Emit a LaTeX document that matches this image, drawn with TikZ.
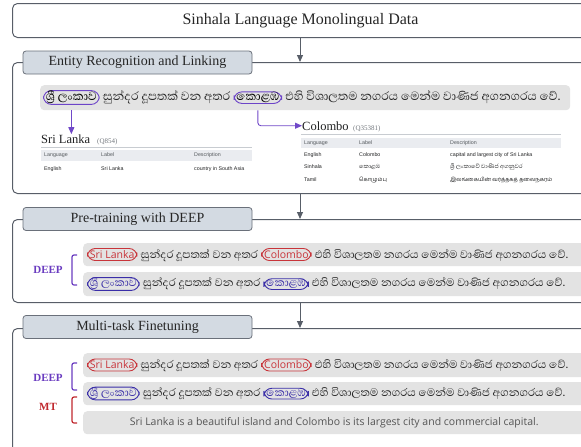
\documentclass[tikz,border=0pt]{standalone}
\usepackage{fontspec}
\setmainfont{Liberation Serif}
\newfontfamily\sinhf[Script=Sinhala]{Abhaya Libre}
\newfontfamily\tamf[Script=Tamil]{Hind Madurai}
\newfontfamily\osans{Open Sans}
\newfontfamily\lsans{Liberation Sans}
\newcommand\SiA{\sinhf\fontsize{15.2}{17}\selectfont}
\newcommand\SiB{\sinhf\fontsize{14}{16}\selectfont}
\usetikzlibrary{arrows.meta,positioning}
\definecolor{frameC}{HTML}{585E68}
\definecolor{labelD}{HTML}{6A707A}
\definecolor{labelF}{HTML}{D3DAE2}
\definecolor{rowF}{HTML}{E3E3E3}
\definecolor{entP}{HTML}{6C44C8}
\definecolor{connP}{HTML}{7048C8}
\definecolor{entR}{HTML}{C8343A}
\definecolor{entB}{HTML}{3A2EA8}
\definecolor{deepC}{HTML}{6A3CC0}
\definecolor{mtC}{HTML}{C0282E}
\definecolor{wdgray}{HTML}{EAECF0}
\definecolor{wdline}{HTML}{C8CCD1}
\definecolor{wdtext}{HTML}{202122}
\definecolor{wdhead}{HTML}{54595D}
\definecolor{wdq}{HTML}{72777D}
\definecolor{ensent}{HTML}{555555}
\begin{document}
\begin{tikzpicture}[x=1pt,y=-1pt,
  frame/.style={draw=frameC, line width=1pt, rounded corners=5pt, inner sep=0pt, anchor=north west},
  plabel/.style={draw=labelD, fill=labelF, line width=0.8pt, rounded corners=3pt, minimum width=229pt, minimum height=23pt, inner sep=0pt, font=\fontsize{14}{16}\selectfont, text=black!85},
  rowbox/.style={fill=rowF, rounded corners=4pt, inner sep=0pt, anchor=north west},
  sit/.style={font=\SiB, inner sep=0pt, text=black!85},
  sitA/.style={font=\SiA, inner sep=0pt, text=black!85},
  ent/.style={draw=#1, line width=0.9pt, rounded corners=8pt, inner xsep=2.5pt, inner ysep=0.5pt, font=\SiB},
  entA/.style={ent=#1, font=\SiA},
  entEn/.style={ent=#1, text=#1, inner ysep=2pt, font=\osans\fontsize{10.5}{12}\selectfont},
  garrow/.style={draw=frameC, line width=1pt, -{Triangle[length=7pt,width=6pt]}},
  pconn/.style={draw=connP, line width=0.9pt, -{Triangle[length=7pt,width=6pt]}, rounded corners=3pt},
  wdtitle/.style={font=\fontsize{12.5}{14}\selectfont, inner sep=0pt, text=wdtext, anchor=base west},
  wdq/.style={font=\fontsize{7}{8}\selectfont, inner sep=0pt, text=wdq, anchor=base west},
  wdh/.style={font=\lsans\fontsize{5.3}{6}\selectfont, inner sep=0pt, text=wdhead, anchor=west},
  wdd/.style={font=\lsans\fontsize{5.3}{6}\selectfont, inner sep=0pt, text=wdtext, anchor=west},
  sidelab/.style={font=\bfseries\fontsize{11}{13}\selectfont, inner sep=0pt},
  brk/.style={line width=1.2pt, rounded corners=2pt},
]
\useasboundingbox (0,0) rectangle (581,447);
\clip (0,0) rectangle (581,447);
\coordinate (ax) at (300,0);

% title
\node[frame, minimum width=576pt, minimum height=34pt, font=\fontsize{16}{18}\selectfont, text=black!85] (title) at (12,3) {Sinhala Language Monolingual Data};

% panels
\node[frame, minimum width=590pt, minimum height=131pt] (p1) at (12,62) {};
\node[frame, minimum width=590pt, minimum height=83pt] (p2) at (12,219) {};
\node[frame, minimum width=590pt, minimum height=130pt] (p3) at (12,328) {};
\draw[garrow] (title.south -| ax) -- (p1.north -| ax);
\draw[garrow] (p1.south -| ax) -- (p2.north -| ax);
\draw[garrow] (p2.south -| ax) -- (p3.north -| ax);
\node[plabel] (l1) at (137.5,62.5) {Entity Recognition and Linking};
\node[plabel] (l2) at (137.5,219) {Pre-training with DEEP};
\node[plabel] (l3) at (137.5,327) {Multi-task Finetuning};

% panel 1 row
\node[rowbox, minimum width=530pt, minimum height=25pt] (r1) at (40,85) {};
\node[entA=entP, anchor=west] (e1a) at (43,97.5) {ශ්‍රී ලංකාව};
\node[sitA, base right=3pt of e1a] (t1a) {සුන්දර දූපතක් වන අතර};
\node[entA=entP, base right=3pt of t1a] (e1b) {කොළඹ};
\node[sitA, base right=3pt of e1b] (t1b) {එහි විශාලතම නගරය මෙන්ම වාණිජ අගනගරය වේ.};

% wikidata Sri Lanka
\node[wdtitle] (sl) at (41,143) {Sri Lanka};
\node[wdq] (slq) at (97,143) {(Q854)};
\draw[wdline, line width=0.6pt] (41,147) -- (252,147);
\fill[wdgray] (41,150) rectangle (252,160.5);
\node[wdh] (slh1) at (44,155) {Language};
\node[wdh] (slh2) at (101,155) {Label};
\node[wdh] (slh3) at (194,155) {Description};
\node[wdd] (sld1) at (44,169) {English};
\node[wdd] (sld2) at (101,169) {Sri Lanka};
\node[wdd] (sld3) at (194,169) {country in South Asia};

% wikidata Colombo
\node[wdtitle] (co) at (302,130) {Colombo};
\node[wdq] (coq) at (353,130) {(Q35381)};
\draw[wdline, line width=0.6pt] (301,134) -- (561,134);
\fill[wdgray] (301,138) rectangle (561,147.5);
\node[wdh] (coh1) at (304,143) {Language};
\node[wdh] (coh2) at (359,143) {Label};
\node[wdh] (coh3) at (450,143) {Description};
\node[wdd] (cod1) at (304,155) {English};
\node[wdd] (cod2) at (359,155) {Colombo};
\node[wdd] (cod3) at (450,155) {capital and largest city of Sri Lanka};
\node[wdd] (cos1) at (304,167) {Sinhala};
\node[wdd, font=\sinhf\fontsize{7.5}{8}\selectfont] (cos2) at (359,167) {කොළඹ};
\node[wdd, font=\sinhf\fontsize{7.5}{8}\selectfont] (cos3) at (450,167) {ශ්‍රී ලංකාවේ වාණිජ අගනුවර};
\node[wdd] (cot1) at (304,180) {Tamil};
\node[wdd, font=\tamf\fontsize{5.5}{7}\selectfont] (cot2) at (359,180) {கொழும்பு};
\node[wdd, font=\tamf\fontsize{5.5}{7}\selectfont] (cot3) at (450,180) {இலங்கையின் வர்த்தகத் தலைநகரம்};

% connectors
\draw[pconn] (e1a.south |- r1.south) -- (e1a.south |- sl.north);
\draw[pconn] (e1b.south |- r1.south) |- (co.west);

% panel 2
\node[rowbox, minimum width=502pt, minimum height=23pt] (r2a) at (83,243) {};
\node[entEn=entR, anchor=west] (e2a) at (87,254.5) {Sri Lanka};
\node[sit, base right=3pt of e2a] (t2a) {සුන්දර දූපතක් වන අතර};
\node[entEn=entR, base right=3pt of t2a] (e2b) {Colombo};
\node[sit, base right=3pt of e2b] (t2b) {එහි විශාලතම නගරය මෙන්ම වාණිජ අගනගරය වේ.};
\node[rowbox, minimum width=502pt, minimum height=24pt] (r2b) at (83,272) {};
\node[ent=entB, text=entB, anchor=west] (e2c) at (87,284) {ශ්‍රී ලංකාව};
\node[sit, base right=3pt of e2c] (t2c) {සුන්දර දූපතක් වන අතර};
\node[ent=entB, text=entB, base right=3pt of t2c] (e2d) {කොළඹ};
\node[sit, base right=3pt of e2d] (t2d) {එහි විශාලතම නගරය මෙන්ම වාණිජ අගනගරය වේ.};
\node[sidelab, text=deepC] (d2) at (48,270) {DEEP};
\draw[brk, draw=deepC] (77,255) -- (72,255) -- (72,285) -- (77,285);

% panel 3
\node[rowbox, minimum width=502pt, minimum height=24pt] (r3a) at (83,353) {};
\node[entEn=entR, anchor=west] (e3a) at (87,365) {Sri Lanka};
\node[sit, base right=3pt of e3a] (t3a) {සුන්දර දූපතක් වන අතර};
\node[entEn=entR, base right=3pt of t3a] (e3b) {Colombo};
\node[sit, base right=3pt of e3b] (t3b) {එහි විශාලතම නගරය මෙන්ම වාණිජ අගනගරය වේ.};
\node[rowbox, minimum width=502pt, minimum height=23pt] (r3b) at (83,382) {};
\node[ent=entB, text=entB, anchor=west] (e3c) at (87,393.5) {ශ්‍රී ලංකාව};
\node[sit, base right=3pt of e3c] (t3c) {සුන්දර දූපතක් වන අතර};
\node[ent=entB, text=entB, base right=3pt of t3c] (e3d) {කොළඹ};
\node[sit, base right=3pt of e3d] (t3d) {එහි විශාලතම නගරය මෙන්ම වාණිජ අගනගරය වේ.};
\node[rowbox, minimum width=502pt, minimum height=23pt, font=\osans\fontsize{10.5}{12}\selectfont, text=ensent] (r3c) at (83,411) {Sri Lanka is a beautiful island and Colombo is its largest city and commercial capital.};
\node[sidelab, text=deepC] (d3) at (48,378) {DEEP};
\draw[brk, draw=deepC] (77,363) -- (72,363) -- (72,390) -- (77,390);
\node[sidelab, text=mtC] (m3) at (48,407) {MT};
\draw[brk, draw=mtC] (77,397) -- (72,397) -- (72,423) -- (77,423);
\end{tikzpicture}
\end{document}
